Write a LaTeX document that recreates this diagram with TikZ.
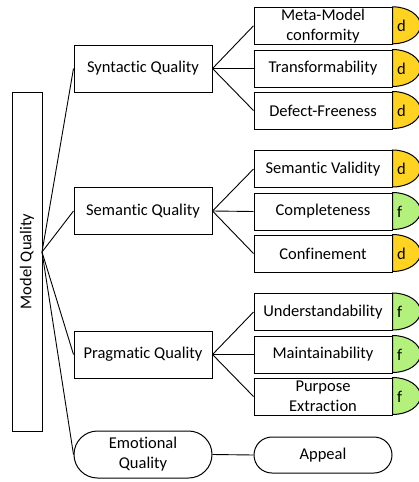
\documentclass[tikz,border=0pt]{standalone}
\usepackage{fontspec}
\setmainfont{Carlito}[Ligatures=NoCommon]
\usetikzlibrary{shapes.misc}
\definecolor{tabyellow}{HTML}{FFD320}
\definecolor{tabgreen}{HTML}{B4F07C}
\newcommand\qtab[3]{%
  \draw[fill=#2] (#1.north east) arc[start angle=90, delta angle=-180, x radius=28pt, y radius=18.5pt] -- cycle;
  \node[anchor=west] (#1tab) at ([xshift=4pt]#1.east) {#3};}
\begin{document}
\begin{tikzpicture}[x=1pt,y=-1pt, line width=1pt,
 every node/.style={font=\fontsize{16.5}{20}\selectfont, inner sep=0pt, align=center},
 box/.style={draw, rectangle, minimum width=138pt, minimum height=47pt},
 leaf/.style={draw, rectangle, minimum width=138pt, minimum height=37pt},
 pill/.style={draw, rounded rectangle, minimum width=138pt},
 link/.style={line width=0.9pt}]
\fill[white] (0,0) rectangle (419,482);
\clip (0,0) rectangle (419,482);
\node[draw, rotate=90, minimum width=339pt, minimum height=30pt] (mq) at (27,261.5) {Model Quality};
\coordinate (hub) at (42,252);
\node[box] (syn) at (143,68.5) {Syntactic Quality};
\node[box] (sem) at (143,211) {Semantic Quality};
\node[box] (prag) at (143,354.5) {Pragmatic Quality};
\node[pill, minimum height=47pt] (emo) at (143,454.5) {Emotional\\Quality};
\node[leaf] (mm) at (323,25.8) {Meta-Model\\conformity};
\node[leaf] (tr) at (323,68.5) {Transformability};
\node[leaf] (df) at (323,110.5) {Defect-Freeness};
\node[leaf] (sv) at (323,169) {Semantic Validity};
\node[leaf] (co) at (323,211.5) {Completeness};
\node[leaf] (cf) at (323,253.5) {Confinement};
\node[leaf] (un) at (323,312) {Understandability};
\node[leaf] (ma) at (323,354.5) {Maintainability};
\node[leaf] (pe) at (323,396.5) {Purpose\\Extraction};
\node[pill, minimum height=36pt] (ap) at (323,455) {Appeal};
\qtab{mm}{tabyellow}{d}
\qtab{tr}{tabyellow}{d}
\qtab{df}{tabyellow}{d}
\qtab{sv}{tabyellow}{d}
\qtab{co}{tabgreen}{f}
\qtab{cf}{tabyellow}{d}
\qtab{un}{tabgreen}{f}
\qtab{ma}{tabgreen}{f}
\qtab{pe}{tabgreen}{f}
\foreach \p in {syn,sem,prag,emo} \draw[link] (hub) -- (\p.west);
\foreach \c in {mm,tr,df} \draw[link] (syn.east) -- (\c.west);
\foreach \c in {sv,co,cf} \draw[link] (sem.east) -- (\c.west);
\foreach \c in {un,ma,pe} \draw[link] (prag.east) -- (\c.west);
\draw[link] (emo.east) -- (ap.west);
\end{tikzpicture}
\end{document}
